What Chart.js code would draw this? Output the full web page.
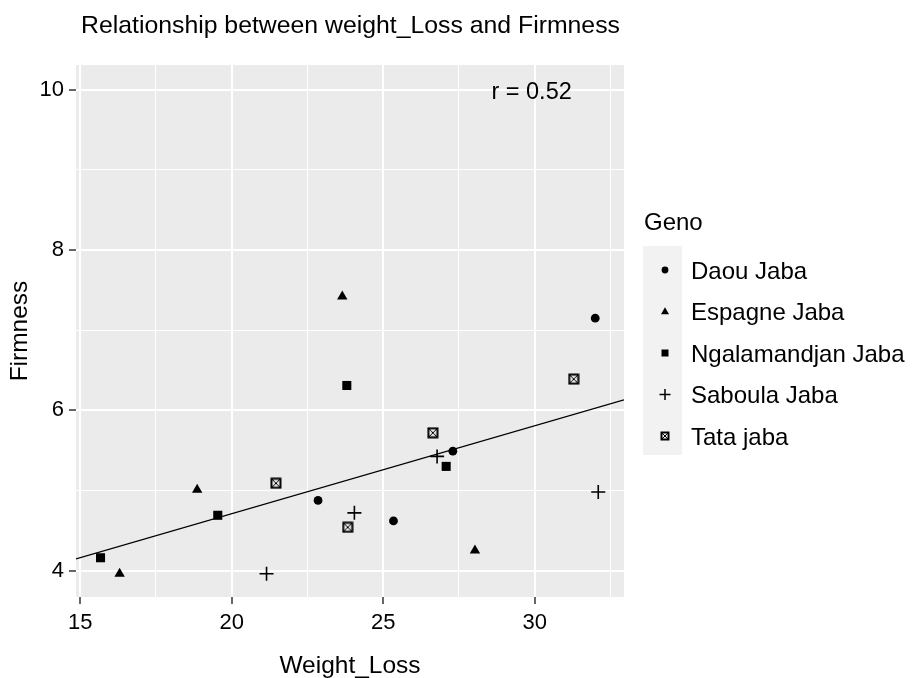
<!DOCTYPE html>
<html>
<head>
<meta charset="utf-8">
<script src="https://cdn.jsdelivr.net/npm/chart.js@4.4.1/dist/chart.umd.min.js"></script>
<style>
  body { margin: 0; background: #fff; }
  canvas { display: block; }
</style>
</head>
<body>
<canvas id="scatterChart" width="912" height="678"></canvas>
<script>
// Values
const genoLabels = ["Daou Jaba", "Espagne Jaba", "Ngalamandjan Jaba", "Saboula Jaba", "Tata jaba"];

const daouX = [22.85, 25.34, 27.3, 32.0];
const daouY = [4.875, 4.62, 5.49, 7.15];
const espagneX = [16.3, 18.86, 23.65, 28.03];
const espagneY = [3.96, 5.01, 7.42, 4.25];
const ngalX = [15.67, 19.54, 23.8, 27.08];
const ngalY = [4.16, 4.69, 6.31, 5.30];
const sabX = [21.15, 24.05, 26.78, 32.1];
const sabY = [3.96, 4.72, 5.425, 4.98];
const tataX = [21.46, 23.83, 26.64, 31.29];
const tataY = [5.09, 4.54, 5.72, 6.39];

// fitted line end points (as drawn)
const fitX = [14.86, 32.95];
const fitY = [4.145, 6.13];

const xGrid = [15, 17.5, 20, 22.5, 25, 27.5, 30, 32.5];
const yGrid = [4, 5, 6, 7, 8, 9, 10];
const xMajor = [15, 20, 25, 30];
const yMajor = [4, 6, 8, 10];

const chartTitle = "Relationship between weight_Loss and Firmness";
const xTitle = "Weight_Loss";
const yTitle = "Firmness";
const legendTitle = "Geno";
const rLabel = "r = 0.52";
const rLabelPos = [29.9, 10];

const FONT = '"Liberation Sans", Arial, Helvetica, sans-serif';

function toPoints(xs, ys) {
  return xs.map((x, i) => ({ x: x, y: ys[i] }));
}

// square with an X inside (ggplot shape 7)
function makeBoxCross(size) {
  const c = document.createElement('canvas');
  c.width = size + 2;
  c.height = size + 2;
  const g = c.getContext('2d');
  g.strokeStyle = '#000';
  g.lineWidth = 2;
  g.strokeRect(1.5, 1.5, size - 1, size - 1);
  g.lineWidth = 1;
  g.beginPath();
  g.moveTo(1.5, 1.5); g.lineTo(size + 0.5, size + 0.5);
  g.moveTo(size + 0.5, 1.5); g.lineTo(1.5, size + 0.5);
  g.stroke();
  return c;
}

const tataMark = makeBoxCross(10);
const tataLegendMark = makeBoxCross(8);

// draws one legend key symbol
function drawKey(ctx, i, x, y) {
  ctx.fillStyle = '#000';
  ctx.strokeStyle = '#000';
  ctx.beginPath();
  if (i === 0) {
    ctx.arc(x, y, 3.4, 0, Math.PI * 2);
    ctx.fill();
  } else if (i === 1) {
    ctx.moveTo(x, y - 4.2);
    ctx.lineTo(x + 4, y + 2.8);
    ctx.lineTo(x - 4, y + 2.8);
    ctx.closePath();
    ctx.fill();
  } else if (i === 2) {
    ctx.fillRect(x - 3.5, y - 3.5, 7, 7);
  } else if (i === 3) {
    ctx.lineWidth = 1.5;
    ctx.moveTo(x - 5.5, y); ctx.lineTo(x + 5.5, y);
    ctx.moveTo(x, y - 5.5); ctx.lineTo(x, y + 5.5);
    ctx.stroke();
  } else {
    ctx.drawImage(tataLegendMark, x - tataLegendMark.width / 2, y - tataLegendMark.height / 2);
  }
}

const ggPlugin = {
  id: 'ggDecor',
  beforeDraw(chart) {
    const { ctx, chartArea: a } = chart;
    ctx.save();
    ctx.fillStyle = '#EBEBEB';
    ctx.fillRect(a.left, a.top, a.right - a.left, a.bottom - a.top);
    ctx.restore();
  },
  afterDraw(chart) {
    const { ctx, chartArea: a, scales } = chart;
    ctx.save();
    ctx.fillStyle = '#000';
    ctx.textBaseline = 'alphabetic';

    // plot title
    ctx.font = '24.8px ' + FONT;
    ctx.textAlign = 'left';
    ctx.fillText(chartTitle, 81, 33);

    // axis titles
    ctx.font = '24.5px ' + FONT;
    ctx.textAlign = 'center';
    ctx.fillText(xTitle, (a.left + a.right) / 2, 673);
    ctx.save();
    ctx.translate(27, (a.top + a.bottom) / 2);
    ctx.rotate(-Math.PI / 2);
    ctx.fillText(yTitle, 0, 0);
    ctx.restore();

    // correlation label
    ctx.font = '23.5px ' + FONT;
    ctx.fillText(rLabel, scales.x.getPixelForValue(rLabelPos[0]), scales.y.getPixelForValue(rLabelPos[1]) + 9);

    // legend
    ctx.textAlign = 'left';
    ctx.font = '24px ' + FONT;
    ctx.fillText(legendTitle, 644, 230);
    ctx.fillStyle = '#F2F2F2';
    ctx.fillRect(643, 246, 39, 209);
    genoLabels.forEach((lab, i) => {
      const cy = 270 + i * 41.5;
      drawKey(ctx, i, 665, cy);
      ctx.fillStyle = '#000';
      ctx.font = '24px ' + FONT;
      ctx.fillText(lab, 691, cy + 8.5);
    });
    ctx.restore();
  }
};

const markerBase = { showLine: false, borderWidth: 0, backgroundColor: '#000', borderColor: '#000', order: 1 };

const canvas = document.getElementById('scatterChart');

new Chart(canvas.getContext('2d'), {
  type: 'scatter',
  data: {
    datasets: [
      {
        label: 'fit',
        data: toPoints(fitX, fitY),
        showLine: true,
        pointRadius: 0,
        borderColor: '#000',
        borderWidth: 1.3,
        order: 0
      },
      Object.assign({}, markerBase, { label: genoLabels[0], data: toPoints(daouX, daouY), pointStyle: 'circle', pointRadius: 4.4 }),
      Object.assign({}, markerBase, { label: genoLabels[1], data: toPoints(espagneX, espagneY), pointStyle: 'triangle', pointRadius: 6 }),
      Object.assign({}, markerBase, { label: genoLabels[2], data: toPoints(ngalX, ngalY), pointStyle: 'rect', pointRadius: 6.4 }),
      Object.assign({}, markerBase, { label: genoLabels[3], data: toPoints(sabX, sabY), pointStyle: 'cross', pointRadius: 7, borderWidth: 1.6 }),
      Object.assign({}, markerBase, { label: genoLabels[4], data: toPoints(tataX, tataY), pointStyle: tataMark, pointRadius: 5 })
    ]
  },
  options: {
    responsive: false,
    animation: false,
    layout: { padding: { top: 65, right: 288, left: 0, bottom: 0 } },
    plugins: {
      legend: { display: false },
      tooltip: { enabled: false },
      title: { display: false }
    },
    scales: {
      x: {
        type: 'linear',
        min: 14.86,
        max: 32.95,
        afterBuildTicks: s => { s.ticks = xGrid.map(v => ({ value: v })); },
        afterFit: s => { s.height = 81; },
        border: { display: false },
        grid: {
          color: '#FFFFFF',
          lineWidth: c => (xMajor.includes(c.tick.value) ? 2 : 1),
          tickColor: c => (xMajor.includes(c.tick.value) ? '#333333' : 'rgba(0,0,0,0)'),
          tickWidth: 1.5,
          tickLength: 7
        },
        ticks: {
          autoSkip: false,
          maxRotation: 0,
          padding: 6,
          color: '#000',
          font: { family: FONT, size: 22 },
          callback: v => (xMajor.includes(v) ? String(v) : '')
        }
      },
      y: {
        type: 'linear',
        min: 3.67,
        max: 10.31,
        afterBuildTicks: s => { s.ticks = yGrid.map(v => ({ value: v })); },
        afterFit: s => { s.width = 76; },
        border: { display: false },
        grid: {
          color: '#FFFFFF',
          lineWidth: c => (yMajor.includes(c.tick.value) ? 2 : 1),
          tickColor: c => (yMajor.includes(c.tick.value) ? '#333333' : 'rgba(0,0,0,0)'),
          tickWidth: 1.5,
          tickLength: 7
        },
        ticks: {
          autoSkip: false,
          padding: 5,
          color: '#000',
          font: { family: FONT, size: 22 },
          callback: v => (yMajor.includes(v) ? String(v) : '')
        }
      }
    }
  },
  plugins: [ggPlugin]
});
</script>
</body>
</html>
